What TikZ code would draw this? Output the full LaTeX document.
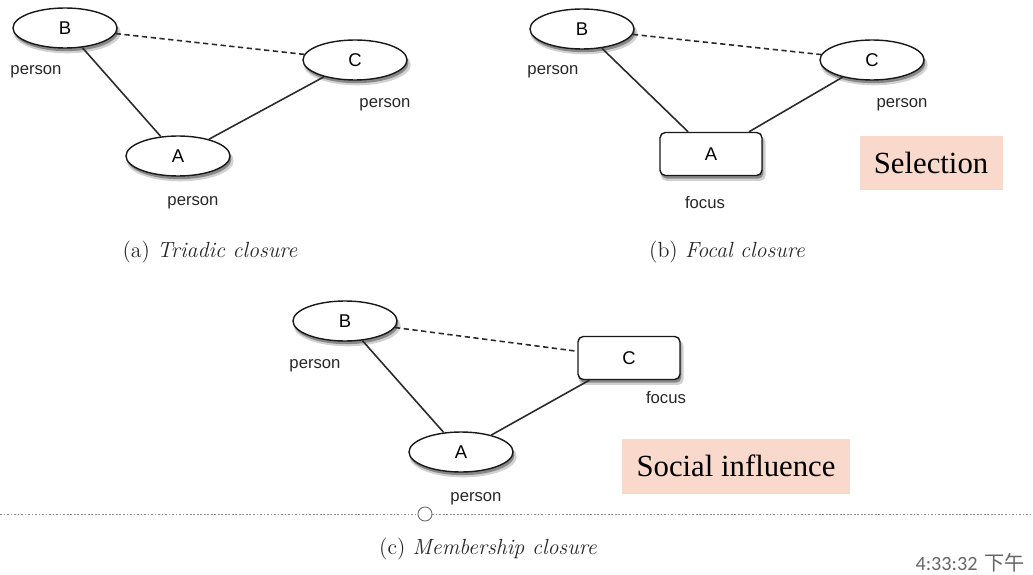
\documentclass[tikz,border=0pt]{standalone}
\usepackage{fontspec}
\newfontfamily\helv{Liberation Sans}
\newfontfamily\slidefont{Liberation Serif}
\newfontfamily\clockfont{Carlito}
\newfontfamily\cjk{Noto Sans CJK SC}
\usetikzlibrary{shapes.geometric,shadows}
\definecolor{peach}{HTML}{F9D9CC}
\definecolor{edgegray}{HTML}{2A2A2A}
\tikzset{
  softshadow/.style={
    general shadow={fill=black,opacity=0.18,shadow xshift=1.2pt,shadow yshift=-2.6pt,shadow scale=1.03},
    general shadow={fill=black,opacity=0.35,shadow xshift=0.8pt,shadow yshift=-1.8pt}},
  person/.style={ellipse,draw=black!90,fill=white,line width=0.8pt,minimum width=2.08cm,minimum height=0.8cm,font=\helv\fontsize{10.5}{12}\selectfont,softshadow},
  focusbox/.style={rectangle,rounded corners=3pt,draw=black!90,fill=white,line width=0.8pt,minimum width=2.04cm,minimum height=0.86cm,font=\helv\fontsize{10.5}{12}\selectfont,softshadow},
  kind/.style={font=\helv\fontsize{9.5}{11}\selectfont,text=black!85},
  tie/.style={draw=edgegray,line width=0.9pt},
  weak/.style={tie,dash pattern=on 3pt off 2pt},
  caption/.style={font=\fontsize{12.5}{15}\selectfont,text=black!85},
  tag/.style={fill=peach,minimum width=2.86cm,minimum height=1.1cm,font=\slidefont\fontsize{17.5}{20}\selectfont}
}
\begin{document}
\begin{tikzpicture}[x=0.02cm,y=-0.02cm]
    \useasboundingbox (0,0) rectangle (1033,574);
    % (a) triadic closure
    \node[person] (aB) at (65,28) {B};
    \node[person] (aC) at (355,60) {C};
    \node[person] (aA) at (178,156) {A};
    \node[kind] (aBk) at (36,72) {person};
    \node[kind] (aCk) at (385,105) {person};
    \node[kind] (aAk) at (193,203) {person};
    \draw[tie] (aB) -- (aA);
    \draw[tie] (aA) -- (aC);
    \draw[weak] (aB) -- (aC);
    \node[caption] (capa) at (210,252) {(a) \textit{Triadic closure}};
    % (b) focal closure
    \node[person] (bB) at (582,29) {B};
    \node[person] (bC) at (872,60) {C};
    \node[focusbox] (bA) at (711,154) {A};
    \node[kind] (bBk) at (553,72) {person};
    \node[kind] (bCk) at (902,105) {person};
    \node[kind] (bAk) at (705,203) {focus};
    \draw[tie] (bB) -- (bA);
    \draw[tie] (bA) -- (bC);
    \draw[weak] (bB) -- (bC);
    \node[caption] (capb) at (727,252) {(b) \textit{Focal closure}};
    \node[tag] (sel) at (931,163) {Selection};
    % (c) membership closure
    \node[person] (cB) at (345,321) {B};
    \node[focusbox] (cC) at (629,358) {C};
    \node[person] (cA) at (461,452) {A};
    \node[kind] (cBk) at (315,366) {person};
    \node[kind] (cCk) at (666,398) {focus};
    \node[kind] (cAk) at (476,499) {person};
    \draw[tie] (cB) -- (cA);
    \draw[tie] (cA) -- (cC);
    \draw[weak] (cB) -- (cC);
    \node[tag,minimum width=4.56cm] (soc) at (736,466) {Social influence};
    % slide guide
    \coordinate (gl) at (0,514);
    \coordinate (gr) at (1033,514);
    \draw[black!45,line width=0.5pt,dash pattern=on 1pt off 1pt] (gl) -- (gr);
    \node[circle,draw=black!60,fill=white,inner sep=0pt,minimum size=8pt,line width=0.5pt] (knob) at (425,514) {};
    \node[caption] (capc) at (488,549) {(c) \textit{Membership closure}};
    \node[text=black!60,font=\fontsize{11.5}{13}\selectfont] (clock) at (970,563) {{\clockfont 4:33:32} {\cjk 下午}};
\end{tikzpicture}
\end{document}
